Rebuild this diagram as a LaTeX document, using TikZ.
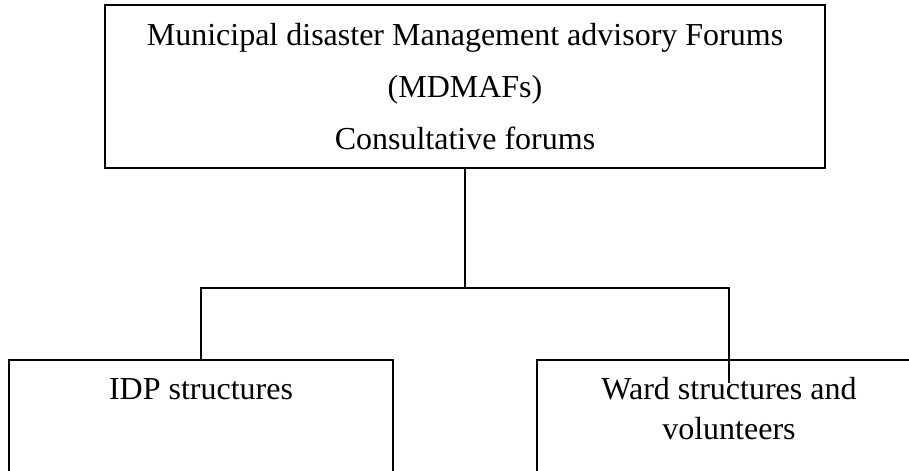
\documentclass[tikz,border=0pt]{standalone}
\usepackage{fontspec}
\setmainfont{Liberation Serif}
\usetikzlibrary{positioning}

\begin{document}
\begin{tikzpicture}[
    x=0.4pt, y=-0.4pt, % 以參考圖的像素為單位 (y 向下)
    font=\fontsize{12.8}{16}\selectfont, % 設定字體大小
    line width=0.8pt, % 線條粗細
    % 定義通用樣式
    box/.style={
        draw,
        fill=white,
        inner sep=0pt,
        outer sep=0pt % 讓方塊邊框緊貼
    },
    cell/.style={
        box,
        minimum width=153.6pt,
        minimum height=80pt,
        anchor=north
    },
    lbl/.style={
        align=center,
        inner sep=0pt,
        anchor=base % 多行時為最後一行的基線
    }
]
    \clip (0,0) rectangle (909,471);

    % --- 1. Forum (Top) ---
    \node[
        box,
        minimum width=288pt,
        minimum height=65.2pt,
        align=center,
        font=\fontsize{12.8}{20.8}\selectfont
    ] (forum) at (465,86.5) {Municipal disaster Management advisory Forums\\(MDMAFs)\\Consultative forums};

    % --- 2. Structures (Bottom) ---
    \node[cell] (idp) at (201,360) {};
    \node[cell] (ward) at (729,360) {};

    % 方塊標籤
    \node[lbl] (idplabel) at ([yshift=-16pt]idp.north) {IDP structures};
    \node[lbl] (wardlabel) at ([yshift=-32pt]ward.north) {Ward structures and\\volunteers};

    % --- 3. Lines (連線) ---
    \coordinate (split) at (465,288);
    \coordinate (wardend) at (729,383);
    \draw (forum.south) -- (split);
    \draw (idp.north) |- (split) -| (wardend);

\end{tikzpicture}
\end{document}
